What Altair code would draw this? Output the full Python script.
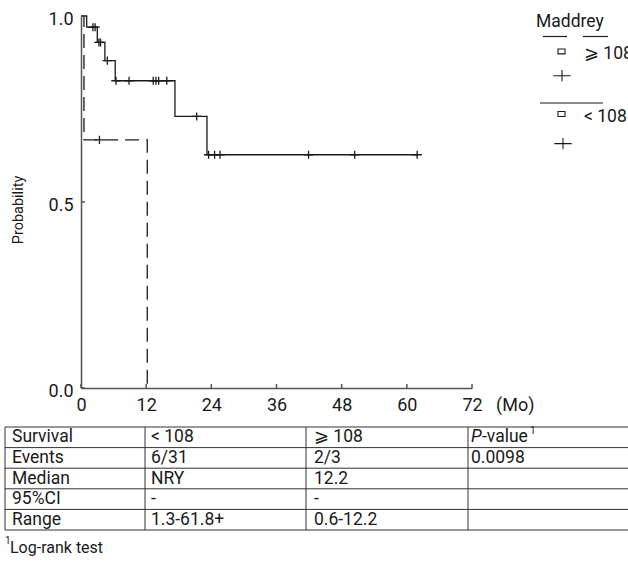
import altair as alt
import pandas as pd

FONT = "Roboto"
INK = "#1a1a1a"
AXIS_INK = "#555555"

# Maddrey < 108 (n = 31): step times (months) and survival after each step
low_time = [0, 1.05, 3.0, 4.4, 6.3, 17.3, 23.2, 61.9]
low_surv = [1.0, 0.970, 0.929, 0.880, 0.826, 0.730, 0.627, 0.627]
low_censored = [2.2, 2.6, 3.3, 3.6, 4.85, 6.45, 8.85, 13.3, 13.8, 14.3,
                15.8, 21.3, 23.5, 24.6, 25.6, 41.9, 50.4, 61.9]

# Maddrey >= 108 (n = 3)
high_time = [0, 0.55, 12.2]
high_surv = [1.0, 0.667, 0.0]
high_censored = [3.4]

x_ticks = [0, 12, 24, 36, 48, 60, 72]
y_ticks = [0.0, 0.5, 1.0]

table_rows = [
    ["Survival", "< 108", "⩾ 108", ""],
    ["Events", "6/31", "2/3", "0.0098"],
    ["Median", "NRY", "12.2", ""],
    ["95%CI", "-", "-", ""],
    ["Range", "1.3-61.8+", "0.6-12.2", ""],
]

# plot area and its place on the page
W, H = 391, 372
LEFT, TOP = 81, 16


def level_at(t, times, surv):
    idx = max(i for i, tt in enumerate(times) if tt <= t)
    return surv[idx]


def page_x(v):
    return v - LEFT


def page_y(v):
    return v - TOP


xs = alt.Scale(domain=[0, 72], nice=False, zero=False)
ys = alt.Scale(domain=[0, 1], nice=False)
x_axis = alt.Axis(values=x_ticks, title=None, grid=False, ticks=False, tickSize=0,
                  labelFont=FONT, labelFontSize=18, labelColor=INK, labelPadding=8,
                  domainColor=AXIS_INK, domainWidth=1.5, labelFlush=False)
y_axis = alt.Axis(values=y_ticks, format=".1f", title=None, grid=False, ticks=False,
                  tickSize=0, labelFont=FONT, labelFontSize=18, labelColor=INK,
                  labelPadding=8, labelOffset=3, domainColor=AXIS_INK, domainWidth=1.5,
                  labelFlush=False)

low_df = pd.DataFrame({"t": low_time, "s": low_surv})
high_df = pd.DataFrame({"t": high_time, "s": high_surv})
cens_df = pd.DataFrame(
    {"t": low_censored + high_censored,
     "s": [level_at(t, low_time, low_surv) for t in low_censored]
     + [level_at(t, high_time, high_surv) for t in high_censored]}
)

X = alt.X("t:Q", scale=xs, axis=x_axis)
Y = alt.Y("s:Q", scale=ys, axis=y_axis)

PLUS = "M-1,0L1,0M0,-0.85L0,0.85"
PLUS_WIDE = "M-1,0L1,0M0,-0.65L0,0.65"
BOX = "M-1,-0.7L1,-0.7L1,0.7L-1,0.7Z"

low_line = alt.Chart(low_df).mark_line(
    interpolate="step-after", color=INK, strokeWidth=1.3
).encode(x=X, y=Y)

high_line = alt.Chart(high_df).mark_line(
    interpolate="step-after", color=INK, strokeWidth=1.3, strokeDash=[14, 7]
).encode(x=X, y=Y)

censor_marks = alt.Chart(cens_df).mark_point(
    shape=PLUS, size=90, filled=False, color=INK, strokeWidth=1.3, opacity=1
).encode(x=X, y=Y)

x_tick_marks = alt.Chart(pd.DataFrame({"t": x_ticks})).mark_rule(
    color=AXIS_INK, strokeWidth=1.5
).encode(x=X, y=alt.value(H), y2=alt.value(H - 4))

y_tick_marks = alt.Chart(pd.DataFrame({"s": y_ticks})).mark_rule(
    color=AXIS_INK, strokeWidth=1.5
).encode(y=Y, x=alt.value(0), x2=alt.value(4))

PX = dict(scale=None, axis=None)

y_title = alt.Chart(pd.DataFrame({"label": ["Probability"]})).mark_text(
    angle=270, font=FONT, fontSize=14.5, color=INK, baseline="middle", align="center"
).encode(x=alt.value(page_x(19)), y=alt.value(page_y(210)), text="label:N")

unit_label = alt.Chart(pd.DataFrame({"label": ["(Mo)"]})).mark_text(
    font=FONT, fontSize=18, color=INK, baseline="middle", align="left"
).encode(x=alt.value(page_x(496)), y=alt.value(page_y(406)), text="label:N")

# ---- table beneath the plot ----
row_edges = [427, 447.6, 468.2, 488.8, 509.4, 530]
col_edges = [5, 145, 306, 468]
col_text = [12, 151, 314, 471]

h_rules = pd.DataFrame({"x": page_x(col_edges[0]), "x2": page_x(660),
                        "y": [page_y(v) for v in row_edges]})
v_rules = pd.DataFrame({"x": [page_x(v) for v in col_edges],
                        "y": page_y(row_edges[0]), "y2": page_y(row_edges[-1])})

table_h = alt.Chart(h_rules).mark_rule(color="#333333", strokeWidth=1).encode(
    x=alt.X("x:Q", **PX), x2="x2:Q", y=alt.Y("y:Q", **PX))
table_v = alt.Chart(v_rules).mark_rule(color="#333333", strokeWidth=1).encode(
    x=alt.X("x:Q", **PX), y=alt.Y("y:Q", **PX), y2="y2:Q")

cells = []
for r, row in enumerate(table_rows):
    cy = (row_edges[r] + row_edges[r + 1]) / 2
    for c, label in enumerate(row):
        if label:
            cells.append({"x": page_x(col_text[c]), "y": page_y(cy), "label": label})
cells_df = pd.DataFrame(cells)

table_text = alt.Chart(cells_df).mark_text(
    font=FONT, fontSize=17.5, color=INK, align="left", baseline="middle"
).encode(x=alt.X("x:Q", **PX), y=alt.Y("y:Q", **PX), text="label:N")

head_y = (row_edges[0] + row_edges[1]) / 2
p_italic = alt.Chart(pd.DataFrame({"label": ["P"]})).mark_text(
    font=FONT, fontSize=17.5, fontStyle="italic", color=INK, align="left", baseline="middle"
).encode(x=alt.value(page_x(471)), y=alt.value(page_y(head_y)), text="label:N")
p_rest = alt.Chart(pd.DataFrame({"label": ["-value"]})).mark_text(
    font=FONT, fontSize=17.5, color=INK, align="left", baseline="middle"
).encode(x=alt.value(page_x(482)), y=alt.value(page_y(head_y)), text="label:N")
p_sup = alt.Chart(pd.DataFrame({"label": ["1"]})).mark_text(
    font=FONT, fontSize=10, color=INK, align="left", baseline="middle"
).encode(x=alt.value(page_x(530)), y=alt.value(page_y(head_y - 6)), text="label:N")

foot_sup = alt.Chart(pd.DataFrame({"label": ["1"]})).mark_text(
    font=FONT, fontSize=10, color=INK, align="left", baseline="middle"
).encode(x=alt.value(page_x(5)), y=alt.value(page_y(541)), text="label:N")
foot_text = alt.Chart(pd.DataFrame({"label": ["Log-rank test"]})).mark_text(
    font=FONT, fontSize=16, color=INK, align="left", baseline="middle"
).encode(x=alt.value(page_x(10)), y=alt.value(page_y(548)), text="label:N")

# ---- legend on the right ----
legend_text = pd.DataFrame({
    "x": [page_x(536), page_x(584), page_x(584)],
    "y": [page_y(22), page_y(54), page_y(116.5)],
    "label": ["Maddrey", "⩾ 108", "< 108"],
})
legend_labels = alt.Chart(legend_text).mark_text(
    font=FONT, fontSize=17.5, color=INK, align="left", baseline="middle"
).encode(x=alt.X("x:Q", **PX), y=alt.Y("y:Q", **PX), text="label:N")

legend_rule_df = pd.DataFrame({
    "x": [page_x(543), page_x(583), page_x(540)],
    "x2": [page_x(567), page_x(608), page_x(603)],
    "y": [page_y(36.5), page_y(36.5), page_y(103)],
})
legend_rules = alt.Chart(legend_rule_df).mark_rule(color=INK, strokeWidth=1.2).encode(
    x=alt.X("x:Q", **PX), x2="x2:Q", y=alt.Y("y:Q", **PX))

legend_boxes = alt.Chart(pd.DataFrame({
    "x": [page_x(561.5), page_x(561.5)], "y": [page_y(51.4), page_y(114)]
})).mark_point(shape=BOX, size=49, filled=False, color=INK, strokeWidth=1.1, opacity=1).encode(
    x=alt.X("x:Q", **PX), y=alt.Y("y:Q", **PX))

legend_plus = alt.Chart(pd.DataFrame({
    "x": [page_x(562), page_x(563)], "y": [page_y(75.7), page_y(143.6)]
})).mark_point(shape=PLUS_WIDE, size=300, filled=False, color=INK, strokeWidth=1.1, opacity=1).encode(
    x=alt.X("x:Q", **PX), y=alt.Y("y:Q", **PX))

chart = alt.layer(
    low_line, high_line, censor_marks, x_tick_marks, y_tick_marks,
    y_title, unit_label,
    table_h, table_v, table_text, p_italic, p_rest, p_sup, foot_sup, foot_text,
    legend_labels, legend_rules, legend_boxes, legend_plus,
).properties(
    width=W, height=H,
    autosize=alt.AutoSizeParams(type="none"),
    padding={"left": LEFT, "top": TOP, "right": 628 - LEFT - W, "bottom": 584 - TOP - H},
    background="white",
).configure_view(stroke=None)

chart.save("out.html", embed_options={"renderer": "svg", "actions": False})
